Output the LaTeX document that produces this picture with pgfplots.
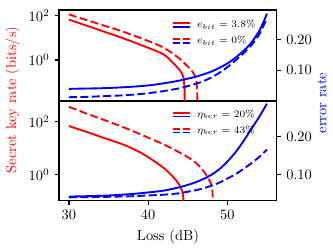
\documentclass[border=0pt]{standalone}
\usepackage{pgfplots}
\pgfplotsset{compat=1.18}
\definecolor{cR}{RGB}{255,0,0}
\definecolor{cB}{RGB}{0,0,255}
\pgfplotsset{
 /pgfplots/mybase/.style={scale only axis, width=150.8pt, xmin=28.75, xmax=56.25,
   major tick length=3pt, axis line style={line width=0.8pt},
   every tick/.style={line width=0.8pt, black}},
 /pgfplots/myleft/.style={mybase, ytick={1,100}, yminorticks=false, xminorticks=false,
   ytick pos=left, xtick pos=bottom, tick align=outside},
 /pgfplots/myright/.style={mybase, axis x line=none, axis y line*=right, ytick={0.1,0.2},
   tick align=outside,
   yticklabel style={/pgf/number format/fixed,/pgf/number format/precision=2,/pgf/number format/fixed zerofill}},
 /pgfplots/mylg/.style={legend style={draw=none, fill=none, font=\fontsize{7.5}{8}\selectfont, inner sep=0pt,
   row sep=0.3pt, column sep=2.5pt}, legend cell align=left},
}
\tikzset{
 rs/.style={cR, line width=1.3pt},
 rd/.style={cR, line width=1.3pt, dash pattern=on 5.5pt off 2.4pt},
 bs/.style={cB, line width=1.3pt, smooth},
 bd/.style={cB, line width=1.3pt, smooth, dash pattern=on 5.5pt off 2.4pt},
}
\begin{document}
\begin{tikzpicture}
\path (0,0) rectangle (230.6pt,171.7pt);
% ---------------- top panel ----------------
\begin{axis}[myleft, ymode=log, at={(40.9pt,101.8pt)}, anchor=south west, height=63pt,
  ymin=0.0141, ymax=182, xtick=\empty]
\addplot[rs, forget plot] coordinates {(30,66.1) (31,50.1) (32,38.0) (33,28.8) (34,21.4) (35,16.2) (36,12.3) (37,9.12) (38,6.76) (39,4.90) (40,3.55) (41,2.57) (41.5,2.14) (42,1.74) (42.5,1.26) (43,0.832) (43.5,0.550) (44,0.347) (44.3,0.240) (44.5,0.141) (44.6,0.050) (44.65,0.001)};
\addplot[rd, forget plot] coordinates {(30,115) (31,87.1) (32,67.6) (33,52.5) (34,39.8) (35,30.9) (36,24.0) (37,18.2) (38,13.5) (39,10.0) (40,7.24) (41,5.25) (42,3.55) (43,2.09) (44,1.12) (45,0.513) (45.5,0.331) (45.9,0.200) (46.1,0.112) (46.2,0.040) (46.25,0.001)};
\end{axis}
\begin{axis}[myright, at={(40.9pt,101.8pt)}, anchor=south west, height=63pt,
  ymin=0.001, ymax=0.295, mylg,
  legend style={at={(0.518,0.92)}, anchor=north west}]
\addplot[bs, forget plot] coordinates {(30,0.040) (32,0.041) (34,0.042) (36,0.044) (38,0.047) (40,0.051) (42,0.058) (44,0.067) (45,0.073) (46,0.079) (47,0.087) (48,0.096) (49,0.108) (50,0.122) (51,0.140) (52,0.162) (53,0.188) (54,0.226) (54.5,0.252) (55,0.283)};
\addplot[bd, forget plot] coordinates {(30,0.013) (32,0.014) (34,0.016) (36,0.018) (38,0.021) (40,0.026) (42,0.033) (44,0.042) (45,0.049) (46,0.056) (47,0.065) (48,0.077) (49,0.092) (50,0.110) (51,0.131) (52,0.154) (53,0.180) (54,0.215) (55,0.268)};
\addlegendimage{legend image code/.code={
   \draw[cR,line width=1.3pt] (0pt,1.3pt)--(11.5pt,1.3pt);
   \draw[cB,line width=1.3pt] (0pt,-1.3pt)--(11.5pt,-1.3pt);}}
\addlegendentry{$e_{bit} = 3.8\%$}
\addlegendimage{legend image code/.code={
   \draw[cR,line width=1.3pt,dash pattern=on 4.5pt off 2.5pt] (0pt,1.3pt)--(11.5pt,1.3pt);
   \draw[cB,line width=1.3pt,dash pattern=on 4.5pt off 2.5pt] (0pt,-1.3pt)--(11.5pt,-1.3pt);}}
\addlegendentry{$e_{bit} = 0\%$}
\end{axis}
% ---------------- bottom panel ----------------
\begin{axis}[myleft, ymode=log, at={(40.9pt,32.7pt)}, anchor=south west, height=69pt,
  ymin=0.1, ymax=617, xtick={30,40,50}, xlabel={Loss (dB)}]
\addplot[rs, forget plot] coordinates {(30,69.2) (31,55.0) (32,43.7) (33,34.7) (34,26.9) (35,21.4) (36,17.0) (37,13.2) (38,9.77) (39,6.92) (40,4.57) (41,2.88) (42,1.74) (42.5,1.29) (43,0.912) (43.5,0.617) (44,0.380) (44.3,0.240) (44.45,0.126) (44.5,0.050) (44.55,0.01)};
\addplot[rd, forget plot] coordinates {(30,372) (31,288) (32,219) (33,170) (34,132) (35,102) (36,79.4) (37,60.3) (38,45.7) (39,33.9) (40,25.1) (41,18.6) (42,13.8) (43,9.77) (44,6.76) (45,4.57) (45.5,3.63) (46,2.82) (46.5,2.04) (47,1.35) (47.5,0.813) (47.9,0.479) (48.1,0.282) (48.2,0.079) (48.25,0.01)};
\end{axis}
\begin{axis}[myright, at={(40.9pt,32.7pt)}, anchor=south west, height=69pt,
  ymin=0.030, ymax=0.295, mylg,
  legend style={at={(0.518,0.945)}, anchor=north west}]
\addplot[bs, forget plot] coordinates {(30,0.041) (32,0.042) (34,0.043) (36,0.045) (38,0.048) (40,0.052) (42,0.057) (44,0.066) (45,0.072) (46,0.079) (47,0.088) (48,0.099) (49,0.114) (50,0.134) (51,0.158) (52,0.187) (53,0.220) (54,0.252) (55,0.288)};
\addplot[bd, forget plot] coordinates {(30,0.039) (34,0.040) (38,0.042) (40,0.044) (42,0.046) (44,0.050) (45,0.054) (46,0.058) (47,0.063) (48,0.070) (49,0.078) (50,0.089) (51,0.100) (52,0.114) (53,0.129) (54,0.146) (55,0.166)};
\addlegendimage{legend image code/.code={
   \draw[cR,line width=1.3pt] (0pt,1.3pt)--(11.5pt,1.3pt);
   \draw[cB,line width=1.3pt] (0pt,-1.3pt)--(11.5pt,-1.3pt);}}
\addlegendentry{$\eta_{ber} = 20\%$}
\addlegendimage{legend image code/.code={
   \draw[cR,line width=1.3pt,dash pattern=on 4.5pt off 2.5pt] (0pt,1.3pt)--(11.5pt,1.3pt);
   \draw[cB,line width=1.3pt,dash pattern=on 4.5pt off 2.5pt] (0pt,-1.3pt)--(11.5pt,-1.3pt);}}
\addlegendentry{$\eta_{ber} = 43\%$}
\end{axis}
\node[rotate=90, text=cR] at (8.7pt,102.5pt) {Secret key rate (bits/s)};
\node[rotate=90, text=cB] at (223pt,100.4pt) {error rate};
\end{tikzpicture}
\end{document}
